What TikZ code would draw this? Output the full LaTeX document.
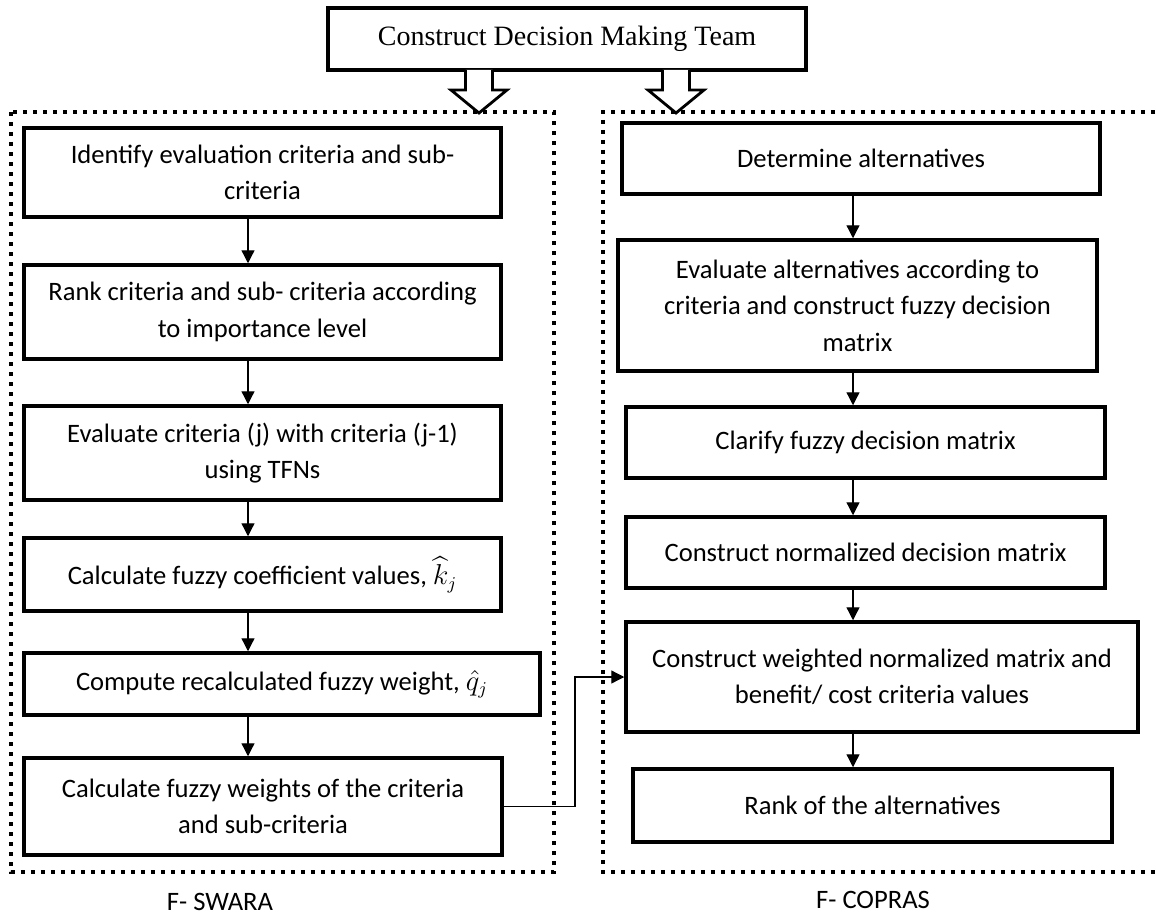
\documentclass[tikz,border=0pt]{standalone}
\usepackage{amsmath}
\usepackage{fontspec}
\usetikzlibrary{arrows.meta}
\setmainfont{Liberation Serif}
\newfontfamily\calib{Carlito}
\tikzset{
  stp/.style={draw=black, line width=1.75pt, inner sep=2pt, align=center,
              font=\calib\fontsize{13.3}{18.3}\selectfont, text=black},
  top/.style={draw=black, line width=1.75pt, inner sep=2pt, align=center,
              font=\fontsize{14}{17}\selectfont, text=black},
  frm/.style={line width=2pt, dash pattern=on 2pt off 3pt},
  hol/.style={draw=black, fill=white, line width=1.4pt, line join=miter},
  ch/.style={-{Triangle[length=6.5pt,width=6.5pt]}, line width=0.65pt},
  lbl/.style={font=\calib\fontsize{13.3}{16}\selectfont},
}

\begin{document}
\begin{tikzpicture}[x=0.5pt, y=-0.5pt]
    \useasboundingbox (0,0) rectangle (1156,915);
    % dotted frames (the right one runs off the page)
    \draw[frm] (11,112) rectangle (554,872);
    \draw[frm] (1175,112) -- (603,112) -- (603,872) -- (1175,872);
    \node[top, minimum width=239pt, minimum height=31pt] (team) at (567,39) {Construct Decision Making Team};
    % F-SWARA
    \node[stp, minimum width=238.5pt, minimum height=44.5pt] (idcrit) at (262.5,172.5) {Identify evaluation criteria and sub-\\criteria};
    \node[stp, minimum width=238.5pt, minimum height=47pt] (rankcrit) at (262.5,312) {Rank criteria and sub- criteria according\\to importance level};
    \node[stp, minimum width=238.5pt, minimum height=47pt] (evalcrit) at (262.5,453) {Evaluate criteria (j) with criteria (j-1)\\using TFNs};
    \node[stp, minimum width=238.5pt, minimum height=36.5pt] (coeff) at (262.5,574.5) {Calculate fuzzy coefficient values, $\widehat{k}_j$};
    \node[stp, minimum width=258pt, minimum height=31pt] (recalc) at (282,684) {Compute recalculated fuzzy weight, $\hat{q}_j$};
    \node[stp, minimum width=239pt, minimum height=48.5pt] (fweights) at (263,806.5) {Calculate fuzzy weights of the criteria\\and sub-criteria};
    % F-COPRAS
    \node[stp, minimum width=239pt, minimum height=35.5pt] (detalt) at (861,158.5) {Determine alternatives};
    \node[stp, minimum width=239.5pt, minimum height=65.5pt] (evalalt) at (857.5,305.5) {Evaluate alternatives according to\\criteria and construct fuzzy decision\\matrix};
    \node[stp, minimum width=239.5pt, minimum height=35.5pt] (clarify) at (865.5,442.5) {Clarify fuzzy decision matrix};
    \node[stp, minimum width=239.5pt, minimum height=35.5pt] (normal) at (865.5,552.5) {Construct normalized decision matrix};
    \node[stp, minimum width=256pt, minimum height=55pt] (weighted) at (882,677) {Construct weighted normalized matrix and\\benefit/ cost criteria values};
    \node[stp, minimum width=239.5pt, minimum height=36.5pt] (rankalt) at (872.5,805.5) {Rank of the alternatives};
    \node[lbl] (swara) at (220,902) {F- SWARA};
    \node[lbl] (copras) at (873,900) {F- COPRAS};
    \coordinate (swcol) at (248,0);
    \coordinate (cpcol) at (853,0);
    \coordinate (jog) at (575,0);
    % hollow arrows from the team box
    \foreach \ax in {479,676}
      \draw[hol] (\ax-13.5,70) -- (\ax-13.5,90) -- (\ax-28,90) -- (\ax,113)
                 -- (\ax+28,90) -- (\ax+13.5,90) -- (\ax+13.5,70);
    \draw[ch] (idcrit.south -| swcol) -- (rankcrit.north -| swcol);
    \draw[ch] (rankcrit.south -| swcol) -- (evalcrit.north -| swcol);
    \draw[ch] (evalcrit.south -| swcol) -- (coeff.north -| swcol);
    \draw[ch] (coeff.south -| swcol) -- (recalc.north -| swcol);
    \draw[ch] (recalc.south -| swcol) -- (fweights.north -| swcol);
    \draw[ch] (detalt.south -| cpcol) -- (evalalt.north -| cpcol);
    \draw[ch] (evalalt.south -| cpcol) -- (clarify.north -| cpcol);
    \draw[ch] (clarify.south -| cpcol) -- (normal.north -| cpcol);
    \draw[ch] (normal.south -| cpcol) -- (weighted.north -| cpcol);
    \draw[ch] (weighted.south -| cpcol) -- (rankalt.north -| cpcol);
    \draw[ch] (fweights.east) -| (jog |- weighted.west) -- (weighted.west);
\end{tikzpicture}
\end{document}
